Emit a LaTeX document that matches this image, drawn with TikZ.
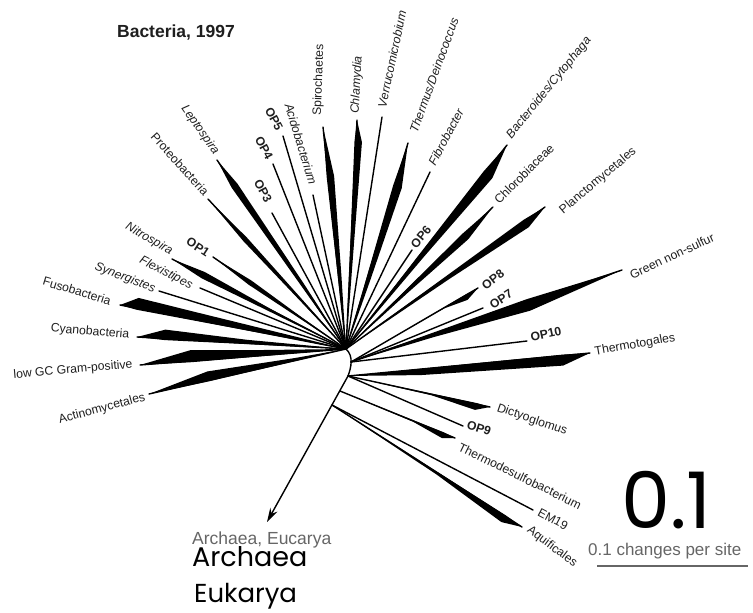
\documentclass[tikz,border=0pt]{standalone}
\usepackage{fontspec}
\setmainfont{Liberation Sans}
\newfontfamily\comicfont{Poppins}
\usetikzlibrary{calc,arrows.meta}

\newcommand\labsize{\fontsize{12.2}{13}\selectfont}
% filled clade wedge: tip, base, bulge distance, bulge width (left), bulge width (right), taper distance, taper width
\newcommand\treewedge[7]{%
  \fill (#1) -- ($(#1)!#3!(#2)!#4!90:(#2)$) -- ($(#1)!#6!(#2)!#7!90:(#2)$) -- (#2)
        -- ($(#1)!#3!(#2)!#5!-90:(#2)$) -- cycle;}

\tikzset{
  branch/.style={line width=1.4pt, line cap=round},
  lab/.style={font=\labsize, text=black!88, inner sep=0pt},
  labit/.style={lab, font=\labsize\itshape},
  oplab/.style={lab, font=\labsize\bfseries},
}

\begin{document}
\begin{tikzpicture}[x=1pt,y=-1pt]
\fill[white] (0,0) rectangle (753,613);
\useasboundingbox (0,0) rectangle (753,613);

% junctions of the tree
\coordinate (hub)   at (346,349);
\coordinate (hubR)  at (351,362);
\coordinate (stem)  at (348,376);
\coordinate (stemA) at (340,391);
\coordinate (stemB) at (332,405);
\coordinate (root)  at (267,522);

% branch tips
\coordinate (tActino) at (149,394);
\coordinate (tLowGC)  at (140,365);
\coordinate (tCyano)  at (137,337);
\coordinate (tFuso)   at (120,305);
\coordinate (tSyner)  at (159,291);
\coordinate (tFlexi)  at (200,288);
\coordinate (tNitro)  at (172,259);
\coordinate (tOPa)    at (213,257);
\coordinate (tProteo) at (208,199);
\coordinate (tLepto)  at (217,160);
\coordinate (tOPc)    at (272,213);
\coordinate (tOPd)    at (273,164);
\coordinate (tOPe)    at (283,136);
\coordinate (tAcido)  at (313,195);
\coordinate (tSpiro)  at (323,127);
\coordinate (tChlam)  at (357,120);
\coordinate (tVerru)  at (382,117);
\coordinate (tThermus) at (408,143);
\coordinate (tFibro)  at (430,172);
\coordinate (tOPf)    at (412,250);
\coordinate (tBactero) at (507,145);
\coordinate (tChloro) at (493,207);
\coordinate (tPlancto) at (545,207);
\coordinate (tOPh)    at (478,288);
\coordinate (tOPg)    at (483,308);
\coordinate (tGreen)  at (622,270);
\coordinate (tOPj)    at (527,341);
\coordinate (tToga)   at (590,353);
\coordinate (tDictyo) at (490,407);
\coordinate (tOPi)    at (463,426);
\coordinate (tTdesulf) at (455,438);
\coordinate (tEM)     at (533,510);
\coordinate (tAquif)  at (522,527);

% backbone and the branch leading out to Archaea / Eucarya
\draw[branch] (hub) .. controls (354,356) and (351,368) .. (stem);
\draw[branch, -{Stealth[length=14pt,width=8pt]}] (stem) -- (root);

% plain branches
\foreach \t in {tActino,tLowGC,tCyano,tFuso,tSyner,tFlexi,tNitro,tOPa,tProteo,tLepto,
                tOPc,tOPd,tOPe,tAcido,tSpiro,tChlam,tVerru,tThermus,tFibro,tOPf,
                tBactero,tChloro,tPlancto}
  \draw[branch] (hub) -- (\t);
\foreach \t in {tOPh,tOPg,tGreen,tOPj}
  \draw[branch] (hubR) -- (\t);
\foreach \t in {tToga,tDictyo,tOPi}
  \draw[branch] (stem) -- (\t);
\draw[branch] (stemA) -- (tTdesulf);
\draw[branch] (stemB) -- (tEM);
\draw[branch] (stemB) -- (tAquif);

% clade wedges
\treewedge{tActino}{hub}{62pt}{9pt}{1pt}{150pt}{2.6pt}
\treewedge{tLowGC}{hub}{52pt}{11pt}{1.2pt}{115pt}{6pt}
\treewedge{tCyano}{hub}{28pt}{9pt}{1.5pt}{110pt}{3.5pt}
\treewedge{tFuso}{hub}{17pt}{10.5pt}{1.5pt}{85pt}{7pt}
\treewedge{tNitro}{hub}{35pt}{3.5pt}{3.5pt}{110pt}{1pt}
\treewedge{tOPa}{hub}{45pt}{2.5pt}{2.5pt}{110pt}{0.8pt}
\treewedge{tProteo}{hub}{55pt}{2.5pt}{2.5pt}{170pt}{0.8pt}
\treewedge{tLepto}{hub}{31pt}{3.5pt}{3.5pt}{150pt}{2pt}
\treewedge{tSpiro}{hub}{50pt}{6pt}{1.5pt}{150pt}{3pt}
\treewedge{tChlam}{hub}{22pt}{6pt}{1.5pt}{120pt}{3pt}
\treewedge{tThermus}{hub}{45pt}{7pt}{2pt}{140pt}{3.5pt}
\treewedge{tBactero}{hub}{35pt}{9pt}{2pt}{140pt}{4pt}
\treewedge{tChloro}{hub}{40pt}{6pt}{2pt}{120pt}{2.5pt}
\treewedge{tPlancto}{hub}{25pt}{7pt}{2pt}{120pt}{3pt}
\treewedge{tOPh}{hubR}{15pt}{5pt}{0.5pt}{40pt}{0.5pt}
\treewedge{tGreen}{hubR}{100pt}{9pt}{3pt}{200pt}{3pt}
\treewedge{tToga}{stem}{28pt}{10pt}{1pt}{170pt}{6pt}
\treewedge{tDictyo}{stem}{14pt}{6pt}{1pt}{60pt}{1pt}
\treewedge{tTdesulf}{stemA}{12pt}{5pt}{1pt}{45pt}{0.8pt}
\treewedge{tAquif}{stemB}{20pt}{7pt}{1pt}{100pt}{2pt}

% title
\node[font=\fontsize{17.5}{18}\selectfont\bfseries, text=black!88] (title) at (176,33) {Bacteria, 1997};

% clade labels
\node[labit, rotate=-30] (lNitro) at (149,239) {Nitrospira};
\node[oplab, rotate=-33] (lOPa) at (198,247) {OP1};
\node[labit, rotate=-27] (lFlexi) at (166,273) {Flexistipes};
\node[labit, rotate=-21] (lSyner) at (125,278) {Synergistes};
\node[lab, rotate=-17] (lFuso) at (77,291) {Fusobacteria};
\node[lab, rotate=-5] (lCyano) at (90,332) {Cyanobacteria};
\node[lab, rotate=5] (lLowGC) at (73,370) {low GC Gram-positive};
\node[lab, rotate=15] (lActino) at (102,409) {Actinomycetales};
\node[lab, rotate=-48] (lProteo) at (180,164) {Proteobacteria};
\node[labit, rotate=-55] (lLepto) at (200,130) {Leptospira};
\node[oplab, rotate=-62] (lOPe) at (274,119) {OP5};
\node[oplab, rotate=-62] (lOPd) at (264,148) {OP4};
\node[oplab, rotate=-62] (lOPc) at (263,191) {OP3};
\node[labit, rotate=-73] (lAcido) at (301,144) {Acidobacterium};
\node[lab, rotate=88] (lSpiro) at (319,80) {Spirochaetes};
\node[labit, rotate=87] (lChlam) at (357,85) {Chlamydia};
\node[labit, rotate=78] (lVerru) at (392,59) {Verrucomicrobium};
\node[labit, rotate=70] (lThermus) at (434,75) {Thermus/Deinococcus};
\node[labit, rotate=62] (lFibro) at (446,137) {Fibrobacter};
\node[labit, rotate=51] (lBactero) at (549,88) {Bacteroides/Cytophaga};
\node[lab, rotate=45] (lChloro) at (524,174) {Chlorobiaceae};
\node[lab, rotate=40] (lPlancto) at (598,181) {Planctomycetales};
\node[oplab, rotate=50] (lOPf) at (421,237) {OP6};
\node[oplab, rotate=38] (lOPh) at (493,280) {OP8};
\node[oplab, rotate=33] (lOPg) at (501,299) {OP7};
\node[lab, rotate=25] (lGreen) at (672,256) {Green non-sulfur};
\node[oplab, rotate=12] (lOPj) at (546,334) {OP10};
\node[lab, rotate=10] (lToga) at (635,345) {Thermotogales};
\node[lab, rotate=-19] (lDictyo) at (532,420) {Dictyoglomus};
\node[oplab, rotate=-18] (lOPi) at (479,428) {OP9};
\node[lab, rotate=-26] (lTdesulf) at (520,476) {Thermodesulfobacterium};
\node[lab, rotate=-28] (lEM) at (553,519) {EM19};
\node[lab, rotate=-37] (lAquif) at (552,547) {Aquificales};

% outgroup labels
\node[font=\fontsize{17.5}{18}\selectfont, text=black!60, anchor=base west, inner sep=0pt]
  (lOut) at (192,544) {Archaea, Eucarya};
\node[font=\comicfont\fontsize{27}{28}\selectfont, anchor=base west, inner sep=0pt]
  (lArch) at (192,566) {Archaea};
\node[font=\comicfont\fontsize{26}{28}\selectfont, anchor=base west, inner sep=0pt]
  (lEuk) at (194,602) {Eukarya};

% scale
\node[font=\comicfont\fontsize{78}{80}\selectfont, anchor=base west, inner sep=0pt]
  (bigScale) at (621,528) {0.1};
\node[font=\fontsize{17}{18}\selectfont, text=black!60, anchor=base west, inner sep=0pt]
  (scaleText) at (588,555) {0.1 changes per site};
\coordinate (sbL) at (597,566);
\coordinate (sbR) at (748,566);
\draw[black!60, line width=2pt] (sbL) -- (sbR);
\end{tikzpicture}
\end{document}
